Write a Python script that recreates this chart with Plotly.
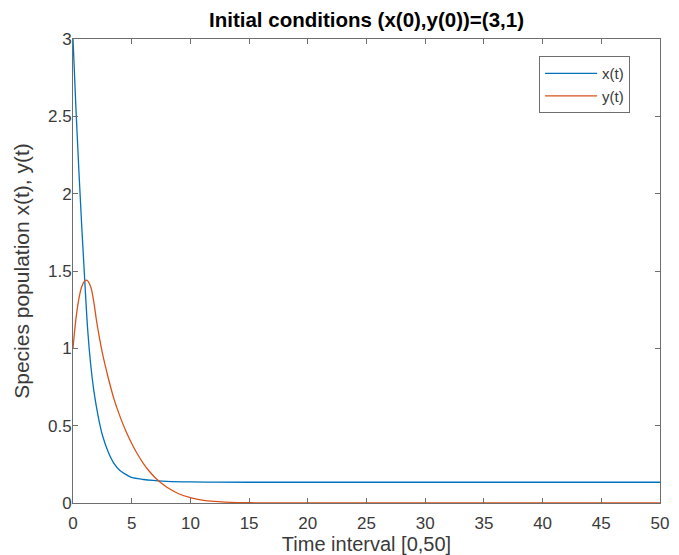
import plotly.graph_objects as go

t_x = [0, 0.25, 0.5, 0.75, 1.0, 1.25, 1.5, 1.75, 2.0, 2.25, 2.5, 3.0, 3.5, 4.0, 4.5, 5.0, 6.0, 7.0, 8.0, 10.0, 12.0, 15.0, 20.0, 30.0, 40.0, 50.0]
x_vals = [3.0, 2.55, 2.15, 1.78, 1.44, 1.12, 0.9, 0.74, 0.62, 0.52, 0.44, 0.33, 0.255, 0.21, 0.185, 0.165, 0.152, 0.145, 0.14, 0.136, 0.135, 0.134, 0.134, 0.134, 0.134, 0.134]

t_y = [0, 0.25, 0.5, 0.75, 1.0, 1.2, 1.5, 1.75, 2.0, 2.25, 2.5, 3.0, 3.5, 4.0, 4.5, 5.0, 5.5, 6.0, 6.5, 7.0, 7.5, 8.0, 9.0, 10.0, 11.0, 12.0, 13.0, 14.0, 15.0, 17.0, 20.0, 30.0, 40.0, 50.0]
y_vals = [1.0, 1.19, 1.32, 1.40, 1.435, 1.44, 1.40, 1.31, 1.18, 1.07, 0.97, 0.81, 0.67, 0.56, 0.465, 0.385, 0.315, 0.255, 0.205, 0.163, 0.13, 0.102, 0.06, 0.034, 0.019, 0.01, 0.0055, 0.003, 0.0015, 0.0004, 0.0, 0.0, 0.0, 0.0]

x_ticks = [0, 5, 10, 15, 20, 25, 30, 35, 40, 45, 50]
y_ticks = [0, 0.5, 1, 1.5, 2, 2.5, 3]
y_ticklabels = ["0", "0.5", "1", "1.5", "2", "2.5", "3"]

title_text = "Initial conditions (x(0),y(0))=(3,1)"
x_title = "Time interval [0,50]"
y_title = "Species population x(t), y(t)"

font_family = "Liberation Sans, Arial, sans-serif"
axis_col = "#6e6e6e"
text_col = "#3a3a3a"

W, H = 671, 547  # page has an 8px body margin

fig = go.Figure()
fig.add_trace(go.Scatter(x=t_x, y=x_vals, mode="lines", name="x(t)",
                         line=dict(color="#0072BD", width=1.3, shape="spline", smoothing=1.0)))
fig.add_trace(go.Scatter(x=t_y, y=y_vals, mode="lines", name="y(t)",
                         line=dict(color="#D95319", width=1.3, shape="spline", smoothing=1.0)))

axis_common = dict(
    showgrid=False, zeroline=False, showline=True, linecolor=axis_col, linewidth=1,
    mirror="allticks", ticks="inside", ticklen=5, tickcolor=axis_col, tickwidth=1,
    tickfont=dict(family=font_family, size=17, color=text_col), automargin=False,
)

fig.update_layout(
    width=W, height=H,
    margin=dict(l=65, r=19, t=31, b=52),
    paper_bgcolor="white", plot_bgcolor="white",
    title=dict(text="<b>" + title_text + "</b>", x=(366.5 - 8) / W, xanchor="center",
               y=1 - 12 / H, yanchor="middle",
               font=dict(family=font_family, size=20.5, color="#000000")),
    xaxis=dict(range=[0, 50], tickvals=x_ticks, ticklabelstandoff=5,
               title=dict(text=x_title, standoff=9, font=dict(family=font_family, size=20, color=text_col)),
               **axis_common),
    yaxis=dict(range=[0, 3], tickvals=y_ticks, ticktext=y_ticklabels, ticklabelstandoff=-3,
               title=dict(text=y_title, standoff=12, font=dict(family=font_family, size=21, color=text_col)),
               **axis_common),
    legend=dict(x=0.949, y=0.963, xanchor="right", yanchor="top",
                bgcolor="white", bordercolor=axis_col, borderwidth=1,
                font=dict(family=font_family, size=15, color=text_col),
                itemwidth=52, tracegroupgap=0),
    showlegend=True,
)

fig.write_html("out.html")
